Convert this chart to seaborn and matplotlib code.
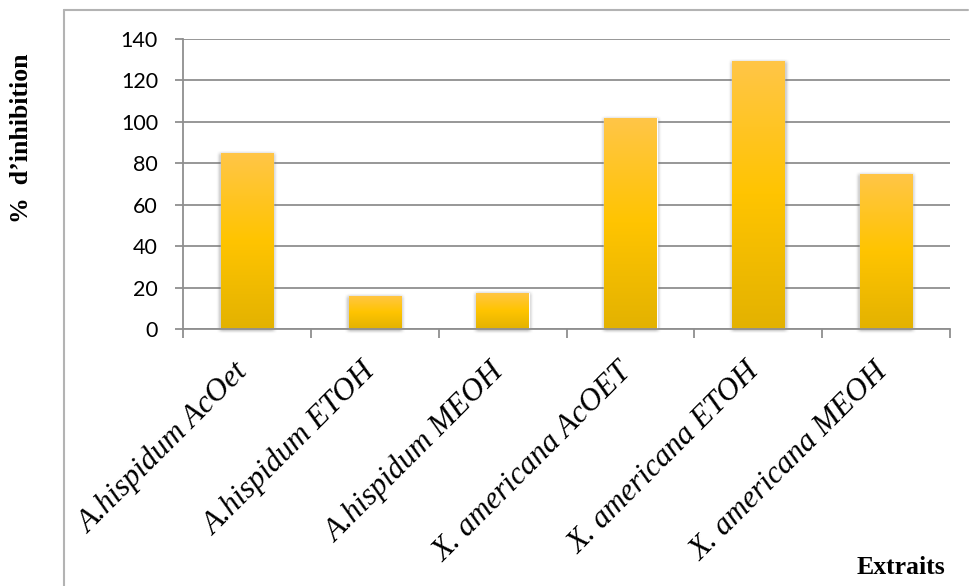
import numpy as np
import pandas as pd
import seaborn as sns
import matplotlib
matplotlib.use("Agg")
import matplotlib.pyplot as plt
import matplotlib.transforms as mtransforms
from matplotlib.colors import LinearSegmentedColormap
from matplotlib.font_manager import FontProperties
from matplotlib.lines import Line2D

# Data
extraits = [
    "A.hispidum AcOet",
    "A.hispidum ETOH",
    "A.hispidum MEOH",
    "X. americana AcOET",
    "X. americana ETOH",
    "X. americana MEOH",
]
inhibition = [85, 16, 17.5, 102, 129.5, 75]
y_ticks = [0, 20, 40, 60, 80, 100, 120, 140]

sns.set_theme(style="white")

W, H = 969, 586
fig = plt.figure(figsize=(W / 100, H / 100), dpi=100)
fig.patch.set_facecolor("white")

# plot area in pixel coordinates
left, right, top, bottom = 183, 950, 39, 329
ax = fig.add_axes([left / W, 1 - bottom / H, (right - left) / W, (bottom - top) / H])

df = pd.DataFrame({"extrait": extraits, "inhibition": inhibition})
sns.barplot(data=df, x="extrait", y="inhibition", color="#FFC400",
            width=0.41, ax=ax, zorder=3, saturation=1)

# vertical golden gradient and soft shadow on every bar
grad_cmap = LinearSegmentedColormap.from_list(
    "gold", [(0.0, "#E3B200"), (0.5, "#FFC400"), (1.0, "#FFC648")])
grad = np.linspace(0, 1, 256).reshape(-1, 1)

gray = np.array([0.42, 0.42, 0.42])
for patch in list(ax.patches):
    x0, y0 = patch.get_x(), patch.get_y()
    w, h = patch.get_width(), patch.get_height()
    # soft shadow
    mx, my = 0.035, 2.3
    xs = np.linspace(x0 - mx, x0 + w + mx, 300)
    ys = np.linspace(y0 - my, y0 + h + my * 0.5, 300)
    ax_ = np.clip(np.minimum(xs - (x0 - mx), (x0 + w + mx) - xs) / (1.6 * mx), 0, 1)
    ay_ = np.clip(np.minimum(ys - (y0 - my), (y0 + h + my * 0.5) - ys) / (1.3 * my), 0, 1)
    ax_ = ax_ * ax_ * (3 - 2 * ax_)
    ay_ = ay_ * ay_ * (3 - 2 * ay_)
    alpha = np.outer(ay_, ax_) * 0.6
    rgba = np.zeros((len(ys), len(xs), 4))
    rgba[..., :3] = gray
    rgba[..., 3] = alpha
    ax.imshow(rgba, extent=[xs[0], xs[-1], ys[0], ys[-1]], origin="lower",
              aspect="auto", zorder=2.5, interpolation="bilinear", clip_on=False)
    # gradient fill
    im = ax.imshow(grad, extent=[x0, x0 + w, y0, y0 + h], origin="lower",
                   aspect="auto", cmap=grad_cmap, vmin=0, vmax=1, zorder=3.5)
    im.set_clip_path(patch)

ax.set_xlim(-0.5, len(extraits) - 0.5)
ax.set_ylim(0, 140)

# grid and axes
grid_color = "#8f8f8f"
ax.set_axisbelow(True)
ax.yaxis.grid(True, color=grid_color, linewidth=1.3)
ax.xaxis.grid(False)
for s in ["top", "right"]:
    ax.spines[s].set_visible(False)
for s in ["left", "bottom"]:
    ax.spines[s].set_color(grid_color)
    ax.spines[s].set_linewidth(1.3)
    ax.spines[s].set_zorder(4)

ax.set_xlabel("")
ax.set_ylabel("")

ytick_font = FontProperties(family="Lato", size=15.5)
ax.set_yticks(y_ticks, labels=[str(v) for v in y_ticks], fontproperties=ytick_font,
              color="black")
ax.tick_params(axis="y", which="major", length=6, width=1.3, color=grid_color,
               direction="out", pad=12, left=True)

# category labels
xtick_font = FontProperties(family="Liberation Serif", style="italic", size=22.5)
ax.set_xticks(np.arange(len(extraits)), labels=extraits, fontproperties=xtick_font,
              color="black", rotation=45, ha="right", va="center",
              rotation_mode="anchor")
# tick marks between categories
ax.set_xticks(np.arange(-0.5, len(extraits)), minor=True)
ax.tick_params(axis="x", which="minor", length=6.5, width=1.3, color=grid_color,
               direction="out", bottom=True)
ax.tick_params(axis="x", which="major", length=0, pad=28)

offset = mtransforms.ScaledTranslation(-3 / 100, 0, fig.dpi_scale_trans)
for lab in ax.get_xticklabels():
    lab.set_transform(lab.get_transform() + offset)

# axis titles
title_font = dict(fontsize=18.5, fontweight="bold", family="Liberation Serif",
                  color="black")
fig.text(22 / W, 1 - 138 / H, "%  d\u2019inhibition", rotation=90,
         ha="center", va="center", **title_font)
fig.text(945 / W, 1 - 568 / H, "Extraits", ha="right", va="center", **title_font)

# outer chart frame (top and left edges)
frame_color = "#b3b3b3"
fig.add_artist(Line2D([64 / W, 968 / W], [1 - 10 / H, 1 - 10 / H],
                      transform=fig.transFigure, color=frame_color, linewidth=1.5))
fig.add_artist(Line2D([64 / W, 64 / W], [1 - 10 / H, 0],
                      transform=fig.transFigure, color=frame_color, linewidth=1.5))

fig.savefig("out.png", dpi=100, facecolor="white")
